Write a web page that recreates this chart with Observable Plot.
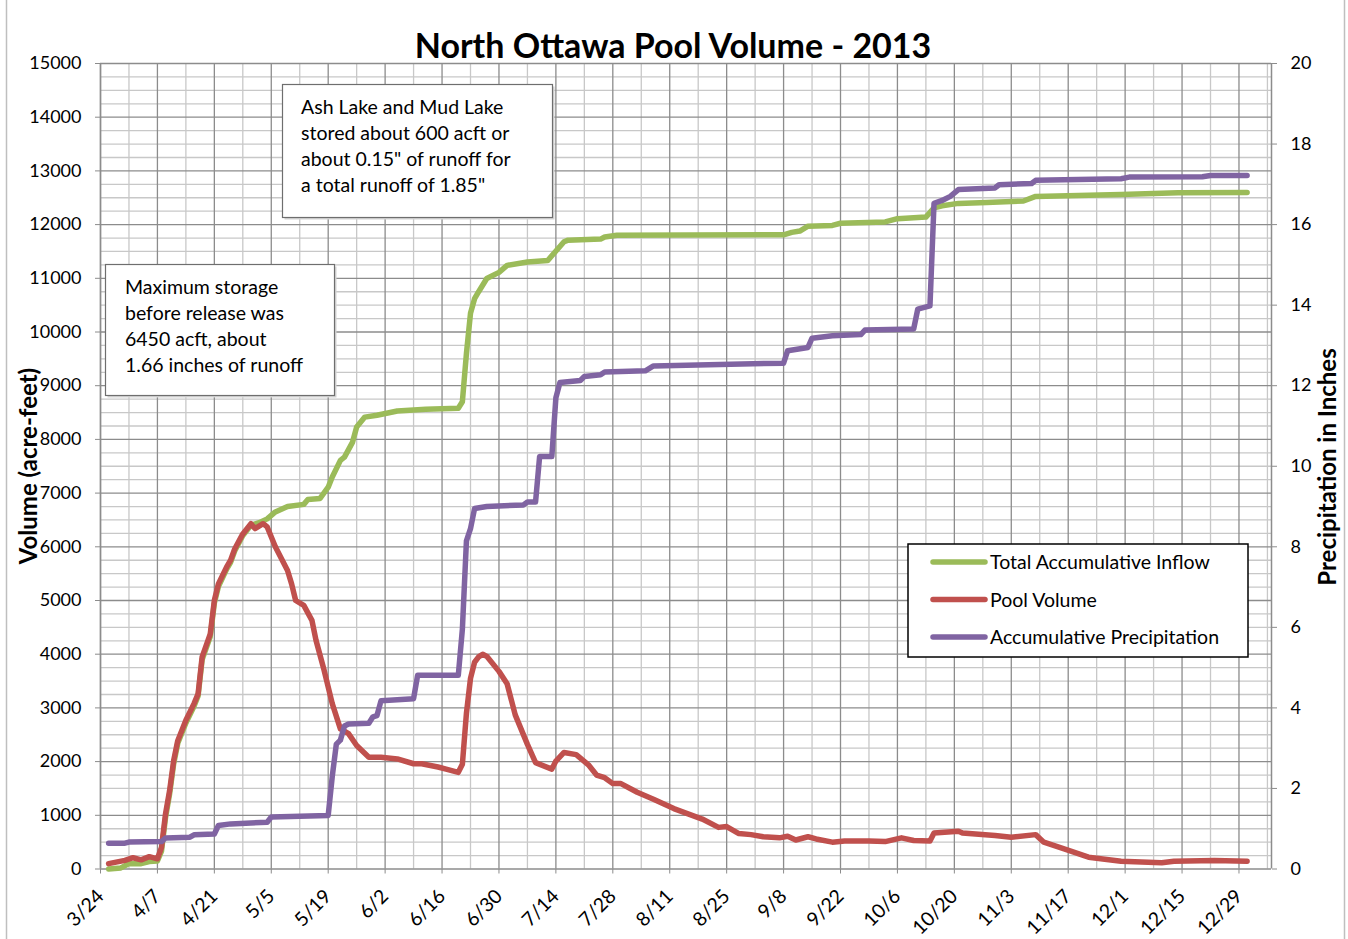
<!DOCTYPE html>
<html>
<head>
<meta charset="utf-8">
<script src="https://cdn.jsdelivr.net/npm/d3@7"></script>
<script src="https://cdn.jsdelivr.net/npm/@observablehq/plot@0.6"></script>
<style>
html, body { margin: 0; padding: 0; background: #fff; }
#chart { width: 1348px; height: 939px; }
svg { display: block; }
</style>
</head>
<body>
<div id="chart"></div>
<script>
// ---------- DATA ----------
const chartTitle = "North Ottawa Pool Volume - 2013";
const leftAxisTitle = "Volume (acre-feet)";
const rightAxisTitle = "Precipitation in Inches";
const xTickLabels = ["3/24","4/7","4/21","5/5","5/19","6/2","6/16","6/30","7/14","7/28","8/11","8/25","9/8","9/22","10/6","10/20","11/3","11/17","12/1","12/15","12/29"];
const seriesNames = ["Total Accumulative Inflow", "Pool Volume", "Accumulative Precipitation"];
const seriesColors = ["#9BBB59", "#C0504D", "#8064A2"];

const inflowDates = ["3/26","3/29","3/31","4/3","4/5","4/7","4/8","4/9","4/10","4/11","4/12","4/14","4/16","4/17","4/18","4/20","4/21","4/22","4/24","4/25","4/26","4/28","4/30","5/2","5/4","5/6","5/9","5/13","5/14","5/17","5/19","5/20","5/22","5/23","5/25","5/26","5/28","5/31","6/5","6/12","6/20","6/21","6/22","6/23","6/24","6/25","6/27","6/30","7/2","7/7","7/12","7/13","7/16","7/17","7/25","7/26","7/29","9/8","9/10","9/12","9/14","9/20","9/22","10/3","10/6","10/13","10/15","10/17","10/21","10/28","11/6","11/9","11/30","12/14","12/31"];
const inflowValues = [0,20,100,100,140,150,330,960,1400,1960,2340,2720,3030,3220,3900,4330,4950,5260,5580,5710,5920,6210,6400,6450,6520,6650,6750,6790,6880,6900,7110,7300,7610,7670,7950,8230,8415,8450,8530,8560,8580,8700,9600,10350,10620,10750,10995,11110,11240,11305,11330,11420,11680,11710,11730,11770,11800,11810,11855,11880,11970,11985,12025,12050,12110,12140,12310,12350,12395,12410,12440,12525,12560,12595,12600];

const poolDates = ["3/26","3/30","4/1","4/3","4/5","4/7","4/8","4/9","4/10","4/11","4/12","4/14","4/16","4/17","4/18","4/20","4/21","4/22","4/24","4/25","4/26","4/28","4/30","5/1","5/3","5/4","5/6","5/9","5/10","5/11","5/13","5/15","5/16","5/18","5/20","5/22","5/24","5/26","5/29","6/1","6/5","6/9","6/11","6/15","6/17","6/20","6/21","6/22","6/23","6/24","6/25","6/26","6/27","6/30","7/2","7/4","7/7","7/9","7/13","7/14","7/16","7/19","7/22","7/24","7/26","7/28","7/30","8/3","8/7","8/12","8/19","8/23","8/25","8/28","8/31","9/3","9/7","9/9","9/11","9/14","9/16","9/20","9/23","9/29","10/3","10/7","10/10","10/14","10/15","10/21","10/22","10/30","11/3","11/9","11/11","11/16","11/22","11/30","12/10","12/13","12/23","12/31"];
const poolValues = [100,160,210,170,230,190,400,1030,1460,2020,2390,2770,3080,3260,3950,4380,5000,5310,5620,5750,5960,6240,6430,6340,6430,6370,6000,5560,5310,5000,4910,4630,4260,3700,3080,2610,2520,2300,2080,2080,2050,1960,1960,1900,1860,1800,1950,2900,3550,3850,3950,4000,3960,3680,3450,2870,2320,1980,1860,2010,2170,2130,1940,1750,1700,1590,1590,1430,1300,1125,930,775,790,660,640,600,580,610,540,600,560,500,520,520,510,580,530,520,670,705,670,625,590,640,500,375,220,145,115,145,158,145];

const precipDates = ["3/26","3/30","3/31","4/8","4/9","4/15","4/16","4/21","4/22","4/25","5/4","5/5","5/19","5/20","5/21","5/22","5/23","5/24","5/29","5/30","5/31","6/1","6/9","6/10","6/20","6/21","6/22","6/23","6/24","6/27","7/6","7/7","7/9","7/10","7/13","7/14","7/15","7/20","7/21","7/25","7/26","8/5","8/7","9/8","9/9","9/14","9/15","9/20","9/27","9/28","10/10","10/11","10/14","10/15","10/17","10/19","10/21","10/30","10/31","11/8","11/9","11/30","12/2","12/20","12/22","12/31"];
const precipValues = [0.64,0.64,0.67,0.68,0.77,0.79,0.85,0.87,1.08,1.12,1.16,1.29,1.33,2.3,3.1,3.2,3.55,3.6,3.62,3.78,3.81,4.18,4.23,4.81,4.81,5.95,8.15,8.45,8.95,9.0,9.04,9.11,9.11,10.24,10.24,11.7,12.08,12.13,12.23,12.27,12.34,12.37,12.49,12.56,12.87,12.95,13.18,13.24,13.27,13.38,13.41,13.9,13.98,16.53,16.6,16.7,16.87,16.91,16.99,17.02,17.1,17.14,17.18,17.19,17.22,17.22];

const textBox1 = ["Ash Lake and Mud Lake", "stored about 600 acft or", "about 0.15\" of runoff for", "a total runoff of 1.85\""];
const textBox2 = ["Maximum storage", "before release was", "6450 acft, about", "1.66 inches of runoff"];

// ---------- BUILD ----------
const parseMD = s => { const [m, d] = s.split("/").map(Number); return new Date(Date.UTC(m < 3 ? 2014 : 2013, m - 1, d)); };
const leftMax = 15000, rightMax = 20, k2 = leftMax / rightMax;
const inflow = inflowDates.map((d, i) => ({date: parseMD(d), value: inflowValues[i]}));
const pool = poolDates.map((d, i) => ({date: parseMD(d), value: poolValues[i]}));
const precip = precipDates.map((d, i) => ({date: parseMD(d), value: precipValues[i] * k2}));

const xStart = parseMD("3/24");
const xEnd = d3.utcDay.offset(xStart, 288);
const tickDates = xTickLabels.map(parseMD);
const minorX = d3.range(7, 289, 14).map(n => d3.utcDay.offset(xStart, n));
const majorY = d3.range(0, leftMax + 1, 1000);
const minorY = d3.range(0, leftMax + 1, 250).filter(v => v % 1000 !== 0);
const rightTicks = d3.range(0, rightMax + 1, 2).map(v => v * k2);

const gridMinor = "#c8c8c8", gridMajor = "#8c8c8c";
const lineOpts = {x: "date", y: "value", strokeWidth: 5.5, strokeLinecap: "round", strokeLinejoin: "round"};

const chart = Plot.plot({
  width: 1348,
  height: 939,
  marginLeft: 100,
  marginRight: 77,
  marginTop: 63,
  marginBottom: 70.5,
  style: {fontFamily: "Lato, 'Open Sans', sans-serif", fontSize: "18px", color: "#000", background: "#fff", overflow: "visible"},
  x: {type: "utc", domain: [xStart, xEnd]},
  y: {domain: [0, leftMax]},
  marks: [
    Plot.ruleY(minorY, {stroke: gridMinor, strokeWidth: 1.3}),
    Plot.ruleX(minorX, {stroke: gridMinor, strokeWidth: 1.3}),
    Plot.ruleY(majorY, {stroke: gridMajor, strokeWidth: 1.3}),
    Plot.ruleX(tickDates, {stroke: gridMajor, strokeWidth: 1.3}),
    Plot.ruleX([xStart, xEnd], {stroke: gridMajor, strokeWidth: 1.5}),
    Plot.axisY({anchor: "left", ticks: majorY, tickFormat: d3.format("d"), tickSize: 5, tickPadding: 14, stroke: gridMajor, fill: "#000", label: null}),
    Plot.axisY({anchor: "right", ticks: rightTicks, tickFormat: v => d3.format("d")(v / k2), tickSize: 5, tickPadding: 14, stroke: gridMajor, fill: "#000", label: null}),
    Plot.axisX({ticks: tickDates, tickFormat: d3.utcFormat("%-m/%-d"), tickRotate: -45, tickSize: 5, tickPadding: 19, fontSize: 19.5, stroke: gridMajor, fill: "#000", label: null}),
    Plot.line(inflow, {...lineOpts, stroke: seriesColors[0]}),
    Plot.line(pool, {...lineOpts, stroke: seriesColors[1]}),
    Plot.line(precip, {...lineOpts, stroke: seriesColors[2]})
  ]
});

document.getElementById("chart").appendChild(chart);
const svg = d3.select(chart);
const font = "Lato, 'Open Sans', sans-serif";

// outer chart-area frame (left and right edges visible)
svg.insert("rect", ":first-child").attr("x", 6.5).attr("y", -3).attr("width", 1338).attr("height", 950)
  .attr("fill", "#fff").attr("stroke", "#bfbfbf").attr("stroke-width", 1.5);

// title
svg.append("text").attr("x", 673).attr("y", 58).attr("text-anchor", "middle")
  .attr("font-family", font).attr("font-weight", "bold").attr("font-size", 34).attr("fill", "#000").text(chartTitle);

// axis titles
svg.append("text").attr("transform", "translate(37,466) rotate(-90)").attr("text-anchor", "middle")
  .attr("font-family", font).attr("font-weight", "bold").attr("font-size", 24).attr("fill", "#000").text(leftAxisTitle);
svg.append("text").attr("transform", "translate(1336,467) rotate(-90)").attr("text-anchor", "middle")
  .attr("font-family", font).attr("font-weight", "bold").attr("font-size", 24).attr("fill", "#000").text(rightAxisTitle);

// annotation boxes
function textBox(x, y, w, h, lines, tx, ty) {
  const g = svg.append("g").attr("text-anchor", "start");
  g.append("rect").attr("x", x + 2).attr("y", y + 2).attr("width", w).attr("height", h).attr("fill", "#d4d4d4");
  g.append("rect").attr("x", x).attr("y", y).attr("width", w).attr("height", h)
    .attr("fill", "#fff").attr("stroke", "#6e6e6e").attr("stroke-width", 1.2);
  lines.forEach((t, i) => g.append("text").attr("x", tx).attr("y", ty + i * 26.3).attr("text-anchor", "start")
    .attr("font-family", font).attr("font-size", 19.5).attr("fill", "#000").text(t));
}
textBox(282.5, 84.5, 270, 133, textBox1, 301, 113.5);
textBox(105.5, 264.5, 229, 131, textBox2, 125, 293.5);

// legend
const lg = svg.append("g").attr("text-anchor", "start");
lg.append("rect").attr("x", 908).attr("y", 544).attr("width", 340).attr("height", 113)
  .attr("fill", "#fff").attr("stroke", "#000").attr("stroke-width", 1.5);
seriesNames.forEach((name, i) => {
  const yy = 562 + i * 37.5;
  lg.append("line").attr("x1", 933).attr("x2", 985).attr("y1", yy).attr("y2", yy)
    .attr("stroke", seriesColors[i]).attr("stroke-width", 5.5).attr("stroke-linecap", "round");
  lg.append("text").attr("x", 990).attr("y", yy + 7).attr("text-anchor", "start").attr("font-family", font).attr("font-size", 19.5)
    .attr("fill", "#000").text(name);
});
</script>
</body>
</html>
